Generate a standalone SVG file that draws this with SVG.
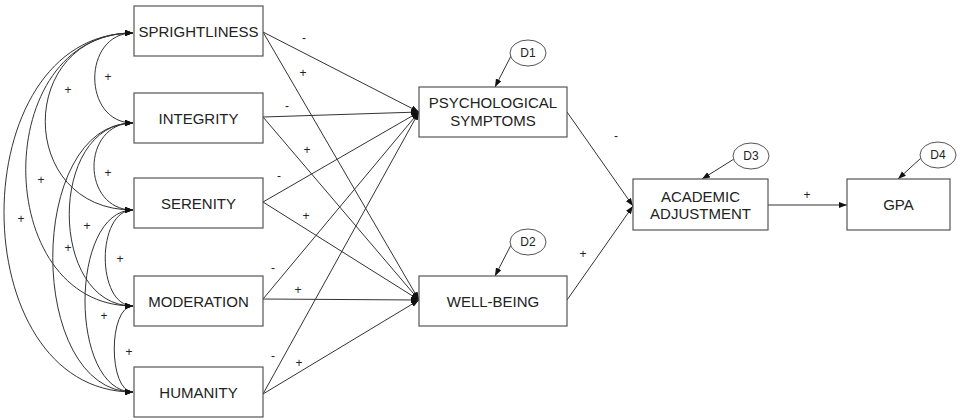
<svg xmlns="http://www.w3.org/2000/svg" width="960" height="420" viewBox="0 0 960 420">
<style>
.box{fill:#fff;stroke:#555;stroke-width:1.2}
.t{font-family:"Liberation Sans",Arial,sans-serif;font-size:15px;fill:#222;text-anchor:middle}
.d{font-family:"Liberation Sans",Arial,sans-serif;font-size:12px;fill:#222;text-anchor:middle}
.lab{font-family:"Liberation Sans",Arial,sans-serif;font-size:12px;fill:#222;text-anchor:middle}
.c{fill:none;stroke:#333;stroke-width:1}
.a{marker-end:url(#ah)}
.dh{marker-start:url(#ah);marker-end:url(#ah)}
.ell{fill:#fff;stroke:#555;stroke-width:1}
</style>
<defs>
<marker id="ah" markerUnits="userSpaceOnUse" markerWidth="9" markerHeight="7" refX="8" refY="3" orient="auto-start-reverse">
<path d="M0,0 L8,3 L0,6 z" fill="#111"/>
</marker>
</defs>
<rect width="960" height="420" fill="#fff"/>
<g id="connectors">
<!-- correlations -->
<path class="c dh" d="M133,33 C82,33 82,123 133,123"/>
<path class="c dh" d="M133,33 C16,33 16,210 133,210"/>
<path class="c dh" d="M133,33 C-10,33 -10,306 133,306"/>
<path class="c dh" d="M133,33 C-39,33 -39,392 133,392"/>
<path class="c dh" d="M133,123 C81,123 81,210 133,210"/>
<path class="c dh" d="M133,123 C48,123 48,306 133,306"/>
<path class="c dh" d="M133,123 C26,123 26,392 133,392"/>
<path class="c dh" d="M133,210 C96,210 96,306 133,306"/>
<path class="c dh" d="M133,210 C69,210 69,392 133,392"/>
<path class="c dh" d="M133,306 C108,306 108,392 133,392"/>
<!-- predictors to mediators -->
<path class="c a" d="M263,32 L419,112"/>
<path class="c a" d="M263,32 L419,300"/>
<path class="c a" d="M263,117 L419,112"/>
<path class="c a" d="M263,117 L419,300"/>
<path class="c a" d="M263,202 L419,112"/>
<path class="c a" d="M263,202 L419,300"/>
<path class="c a" d="M263,299 L419,112"/>
<path class="c a" d="M263,299 L419,300"/>
<path class="c a" d="M263,394 L419,112"/>
<path class="c a" d="M263,394 L419,300"/>
<!-- mediators to outcome -->
<path class="c a" d="M567,112 L633,206"/>
<path class="c a" d="M567,300 L633,206"/>
<path class="c a" d="M768,205 L847,205"/>
<!-- disturbances -->
<path class="c a" d="M511,56 L495,87"/>
<path class="c a" d="M511,245 L495,276"/>
<path class="c a" d="M734,159 L702,179"/>
<path class="c a" d="M921,158 L898,179"/>
<!-- labels -->
<text class="lab" x="108" y="81">+</text>
<text class="lab" x="68" y="94">+</text>
<text class="lab" x="108" y="177">+</text>
<text class="lab" x="41" y="184">+</text>
<text class="lab" x="21" y="223">+</text>
<text class="lab" x="87" y="230">+</text>
<text class="lab" x="68" y="252">+</text>
<text class="lab" x="120" y="263">+</text>
<text class="lab" x="104" y="320">+</text>
<text class="lab" x="129" y="356">+</text>
<text class="lab" x="304" y="42">-</text>
<text class="lab" x="303" y="77">+</text>
<text class="lab" x="287" y="110">-</text>
<text class="lab" x="307" y="154">+</text>
<text class="lab" x="279" y="180">-</text>
<text class="lab" x="306" y="220">+</text>
<text class="lab" x="273" y="272">-</text>
<text class="lab" x="298" y="294">+</text>
<text class="lab" x="273" y="360">-</text>
<text class="lab" x="299" y="367">+</text>
<text class="lab" x="616" y="140">-</text>
<text class="lab" x="583" y="258">+</text>
<text class="lab" x="807" y="199">+</text>
</g>
<g id="sprightliness"><rect class="box" x="134" y="6" width="129" height="50"/><text class="t" x="198.5" y="36.5">SPRIGHTLINESS</text></g>
<g id="integrity"><rect class="box" x="134" y="93" width="129" height="50"/><text class="t" x="198.5" y="123.5">INTEGRITY</text></g>
<g id="serenity"><rect class="box" x="134" y="178" width="129" height="50"/><text class="t" x="198.5" y="208.5">SERENITY</text></g>
<g id="moderation"><rect class="box" x="134" y="276" width="129" height="50"/><text class="t" x="198.5" y="306.5">MODERATION</text></g>
<g id="humanity"><rect class="box" x="134" y="367" width="129" height="50"/><text class="t" x="198.5" y="397.5">HUMANITY</text></g>
<g id="psych"><rect class="box" x="419" y="87" width="148" height="50"/><text class="t" x="493" y="108">PSYCHOLOGICAL</text><text class="t" x="493" y="126">SYMPTOMS</text></g>
<g id="wellbeing"><rect class="box" x="419" y="276" width="148" height="50"/><text class="t" x="493" y="306.5">WELL-BEING</text></g>
<g id="academic"><rect class="box" x="633" y="179" width="135" height="51"/><text class="t" x="700.5" y="202">ACADEMIC</text><text class="t" x="700.5" y="218.5">ADJUSTMENT</text></g>
<g id="gpa"><rect class="box" x="847" y="179" width="103" height="51"/><text class="t" x="898.5" y="210">GPA</text></g>
<g id="d1"><ellipse class="ell" cx="528" cy="53" rx="18" ry="13"/><text class="d" x="528" y="57">D1</text></g>
<g id="d2"><ellipse class="ell" cx="528" cy="242" rx="18" ry="13"/><text class="d" x="528" y="246">D2</text></g>
<g id="d3"><ellipse class="ell" cx="751" cy="156" rx="18" ry="13"/><text class="d" x="751" y="160">D3</text></g>
<g id="d4"><ellipse class="ell" cx="938" cy="155" rx="18" ry="13"/><text class="d" x="938" y="159">D4</text></g>
</svg>
